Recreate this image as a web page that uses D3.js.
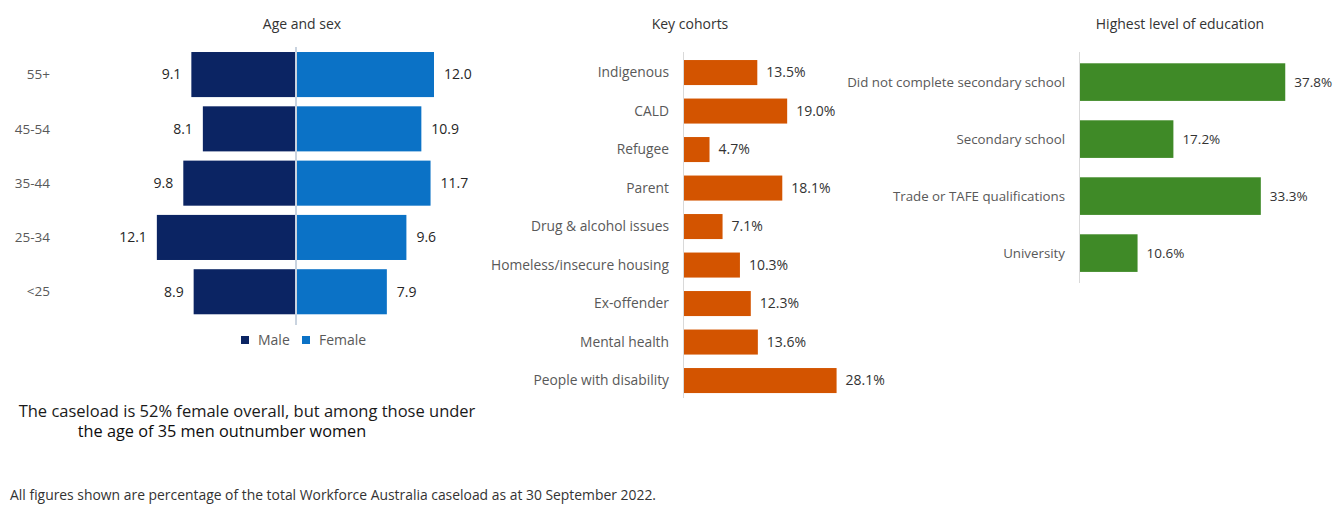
<!DOCTYPE html>
<html>
<head>
<meta charset="utf-8">
<script src="https://cdn.jsdelivr.net/npm/d3@7"></script>
<style>
  body { margin: 0; background: #fff; }
  svg { font-family: "Open Sans", "Noto Sans", sans-serif; }
</style>
</head>
<body>
<svg width="1340" height="509"></svg>
<script>
// age and sex
var ages = ["55+", "45-54", "35-44", "25-34", "<25"];
var male = [9.1, 8.1, 9.8, 12.1, 8.9];
var female = [12.0, 10.9, 11.7, 9.6, 7.9];

// key cohorts
var cohorts = ["Indigenous", "CALD", "Refugee", "Parent", "Drug & alcohol issues",
  "Homeless/insecure housing", "Ex-offender", "Mental health", "People with disability"];
var cohortVals = [13.5, 19.0, 4.7, 18.1, 7.1, 10.3, 12.3, 13.6, 28.1];

// education
var eduLevels = ["Did not complete secondary school", "Secondary school",
  "Trade or TAFE qualifications", "University"];
var eduVals = [37.8, 17.2, 33.3, 10.6];

var svg = d3.select("svg");
var labelCol = "#595959", valCol = "#333";

// ---------- Age and sex ----------
var mid = 296;
var ax = d3.scaleLinear().domain([0, 13]).range([0, 149.5]);
var ay = d3.scaleBand().domain(ages).range([47.4, 318.9])
  .paddingInner(0.17).paddingOuter(0.085);

var age = svg.append("g");
age.append("text").attr("x", 302).attr("y", 29).attr("text-anchor", "middle")
  .attr("font-size", 14).attr("fill", "#333").text("Age and sex");

age.selectAll("rect.m").data(ages).enter().append("rect")
  .attr("class", "m")
  .attr("x", function(d, i) { return mid - ax(male[i]); })
  .attr("y", function(d) { return ay(d); })
  .attr("width", function(d, i) { return ax(male[i]); })
  .attr("height", ay.bandwidth())
  .attr("fill", "#0b2463");

age.selectAll("rect.f").data(ages).enter().append("rect")
  .attr("class", "f")
  .attr("x", mid)
  .attr("y", function(d) { return ay(d); })
  .attr("width", function(d, i) { return ax(female[i]); })
  .attr("height", ay.bandwidth())
  .attr("fill", "#0b72c6");

age.append("line").attr("x1", mid).attr("x2", mid).attr("y1", 47).attr("y2", 325)
  .attr("stroke", "#c9d3df").attr("stroke-width", 2);

age.selectAll("text.ml").data(ages).enter().append("text")
  .attr("x", function(d, i) { return mid - ax(male[i]) - 10; })
  .attr("y", function(d) { return ay(d) + ay.bandwidth() / 2; })
  .attr("dy", "0.35em").attr("text-anchor", "end")
  .attr("font-size", 14).attr("fill", "#262626")
  .text(function(d, i) { return male[i].toFixed(1); });

age.selectAll("text.fl").data(ages).enter().append("text")
  .attr("x", function(d, i) { return mid + ax(female[i]) + 10; })
  .attr("y", function(d) { return ay(d) + ay.bandwidth() / 2; })
  .attr("dy", "0.35em").attr("text-anchor", "start")
  .attr("font-size", 14).attr("fill", "#262626")
  .text(function(d, i) { return female[i].toFixed(1); });

age.selectAll("text.cat").data(ages).enter().append("text")
  .attr("x", 50)
  .attr("y", function(d) { return ay(d) + ay.bandwidth() / 2; })
  .attr("dy", "0.35em").attr("text-anchor", "end")
  .attr("font-size", 13.5).attr("fill", labelCol)
  .text(function(d) { return d; });

// legend
var leg = age.append("g").attr("transform", "translate(241,340)");
leg.append("rect").attr("x", 0).attr("y", -4).attr("width", 8).attr("height", 8).attr("fill", "#0b2463");
leg.append("text").attr("x", 17).attr("dy", "0.35em").attr("font-size", 14).attr("fill", labelCol).text("Male");
leg.append("rect").attr("x", 61).attr("y", -4).attr("width", 8).attr("height", 8).attr("fill", "#0b72c6");
leg.append("text").attr("x", 78).attr("dy", "0.35em").attr("font-size", 14).attr("fill", labelCol).text("Female");

// ---------- Key cohorts ----------
var cx0 = 684;
var cx = d3.scaleLinear().domain([0, 40]).range([0, 217.2]);
var cy = d3.scaleBand().domain(cohorts).range([53.3, 399.8])
  .paddingInner(0.35).paddingOuter(0.175);

var coh = svg.append("g");
coh.append("text").attr("x", 690).attr("y", 29).attr("text-anchor", "middle")
  .attr("font-size", 14).attr("fill", "#333").text("Key cohorts");

coh.selectAll("rect").data(cohorts).enter().append("rect")
  .attr("x", cx0)
  .attr("y", function(d) { return cy(d); })
  .attr("width", function(d, i) { return cx(cohortVals[i]); })
  .attr("height", cy.bandwidth())
  .attr("fill", "#d35400");

coh.append("line").attr("x1", cx0 - 0.5).attr("x2", cx0 - 0.5).attr("y1", 52).attr("y2", 398)
  .attr("stroke", "#d9d9d9").attr("stroke-width", 1);

coh.selectAll("text.v").data(cohorts).enter().append("text")
  .attr("class", "v")
  .attr("x", function(d, i) { return cx0 + cx(cohortVals[i]) + 9; })
  .attr("y", function(d) { return cy(d) + cy.bandwidth() / 2; })
  .attr("dy", "0.35em").attr("font-size", 14).attr("fill", valCol)
  .text(function(d, i) { return cohortVals[i].toFixed(1) + "%"; });

coh.selectAll("text.c").data(cohorts).enter().append("text")
  .attr("class", "c")
  .attr("x", 669)
  .attr("y", function(d) { return cy(d) + cy.bandwidth() / 2; })
  .attr("dy", "0.35em").attr("text-anchor", "end")
  .attr("font-size", 13.8).attr("fill", labelCol)
  .text(function(d) { return d; });

// ---------- Highest level of education ----------
var ex0 = 1080;
var ex = d3.scaleLinear().domain([0, 40]).range([0, 217.2]);
var ey = d3.scaleBand().domain(eduLevels).range([53.6, 281.6])
  .paddingInner(0.34).paddingOuter(0.17);

var edu = svg.append("g");
edu.append("text").attr("x", 1180).attr("y", 29).attr("text-anchor", "middle")
  .attr("font-size", 14).attr("fill", "#333").text("Highest level of education");

edu.selectAll("rect").data(eduLevels).enter().append("rect")
  .attr("x", ex0)
  .attr("y", function(d) { return ey(d); })
  .attr("width", function(d, i) { return ex(eduVals[i]); })
  .attr("height", ey.bandwidth())
  .attr("fill", "#3f8a27");

edu.append("line").attr("x1", ex0 - 0.5).attr("x2", ex0 - 0.5).attr("y1", 52).attr("y2", 283)
  .attr("stroke", "#d9d9d9").attr("stroke-width", 1);

edu.selectAll("text.v").data(eduLevels).enter().append("text")
  .attr("class", "v")
  .attr("x", function(d, i) { return ex0 + ex(eduVals[i]) + 9; })
  .attr("y", function(d) { return ey(d) + ey.bandwidth() / 2; })
  .attr("dy", "0.35em").attr("font-size", 13.5).attr("fill", valCol)
  .text(function(d, i) { return eduVals[i].toFixed(1) + "%"; });

edu.selectAll("text.c").data(eduLevels).enter().append("text")
  .attr("class", "c")
  .attr("x", 1065)
  .attr("y", function(d) { return ey(d) + ey.bandwidth() / 2; })
  .attr("dy", "0.35em").attr("text-anchor", "end")
  .attr("font-size", 13.3).attr("fill", labelCol)
  .text(function(d) { return d; });

// ---------- notes ----------
svg.append("text").attr("x", 247).attr("y", 417).attr("text-anchor", "middle")
  .attr("font-size", 16.5).attr("fill", "#1a1a1a")
  .text("The caseload is 52% female overall, but among those under");
svg.append("text").attr("x", 222).attr("y", 437).attr("text-anchor", "middle")
  .attr("font-size", 16.3).attr("fill", "#0d0d0d")
  .text("the age of 35 men outnumber women");

svg.append("text").attr("x", 10).attr("y", 500)
  .attr("font-size", 13.9).attr("fill", "#333")
  .text("All figures shown are percentage of the total Workforce Australia caseload as at 30 September 2022.");
</script>
</body>
</html>
